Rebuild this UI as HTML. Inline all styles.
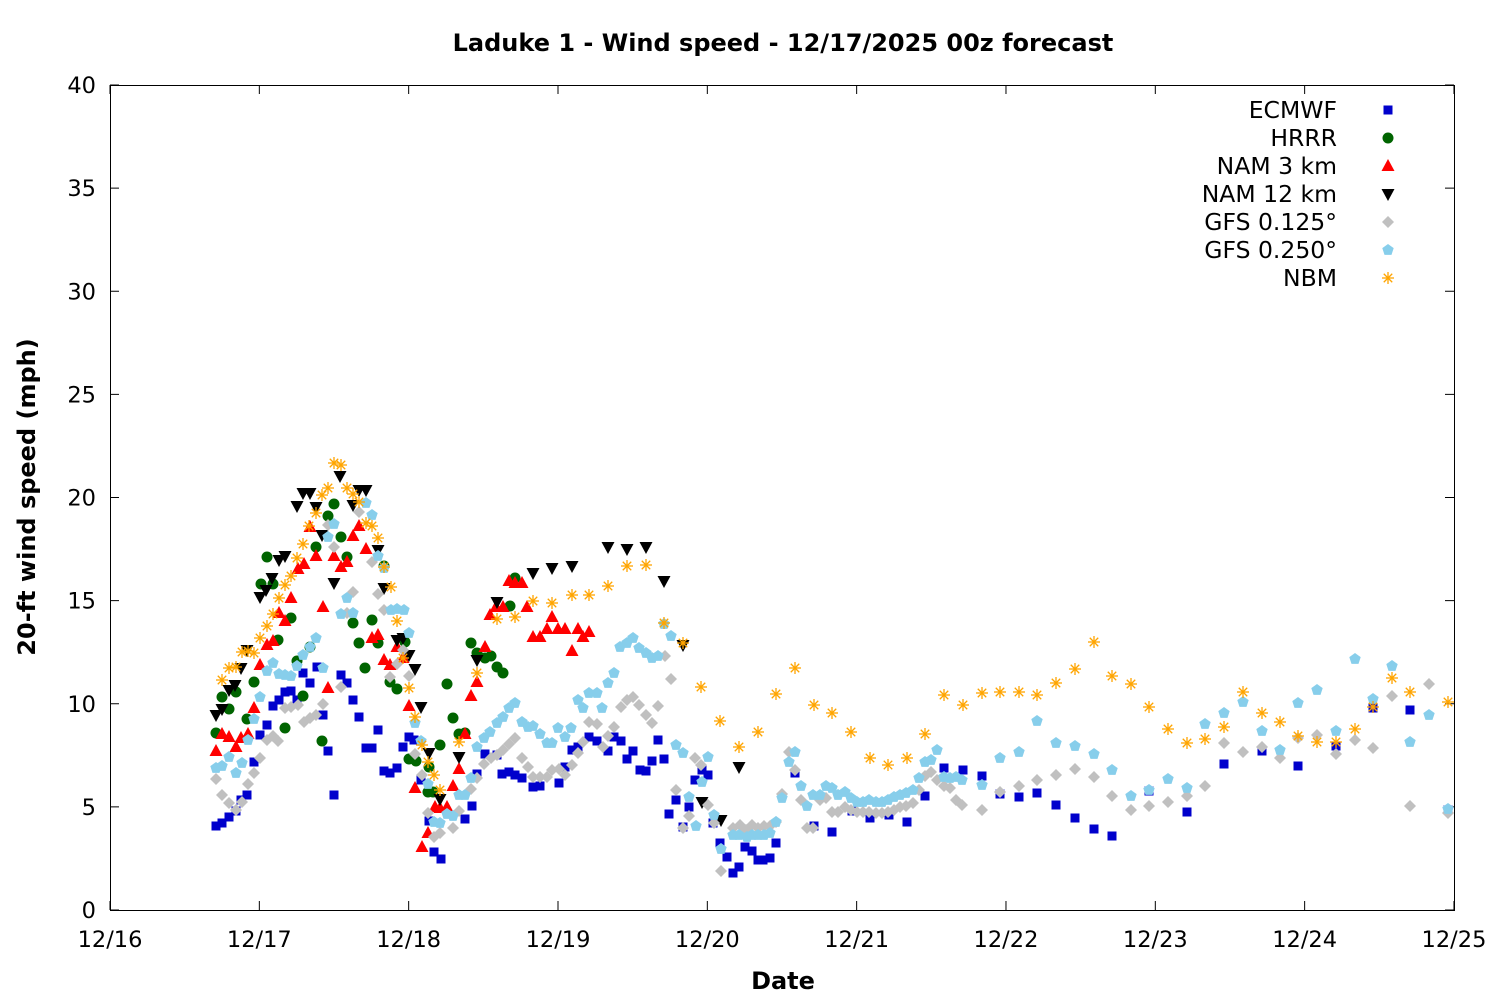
<!DOCTYPE html>
<html><head><meta charset="utf-8"><style>
body{margin:0;background:#fff}
svg{display:block;font-family:"DejaVu Sans","Liberation Sans",sans-serif}
</style></head><body>
<svg id="s" width="1500" height="1000" viewBox="0 0 1500 1000" xmlns="http://www.w3.org/2000/svg">
<rect width="1500" height="1000" fill="#fff"/>
<text x="783" y="51" font-size="24" font-weight="bold" text-anchor="middle">Laduke 1 - Wind speed - 12/17/2025 00z forecast</text>
<text x="783" y="989" font-size="24" font-weight="bold" text-anchor="middle">Date</text>
<text transform="translate(35,497) rotate(-90)" font-size="24" font-weight="bold" text-anchor="middle">20-ft wind speed (mph)</text>
<g id="ax" stroke="#000" stroke-width="1" fill="none"></g>
<g id="tl" font-size="22.5" fill="#000"></g>
<g id="pts"></g>
<g id="leg" font-size="23.5" text-anchor="end"></g>
</svg>
<script>
var NS="http://www.w3.org/2000/svg";
function el(p,t,a,txt){var e=document.createElementNS(NS,t);for(var k in a)e.setAttribute(k,a[k]);if(txt!==undefined)e.textContent=txt;p.appendChild(e);return e;}
var ax=document.getElementById('ax'),tl=document.getElementById('tl');
el(ax,'rect',{x:110.5,y:85.5,width:1344,height:825});
var L=110,R=1454,T=85,B=910;
for(var k=0;k<=8;k++){var y=B-k*103.125;
 el(ax,'line',{x1:L,y1:y,x2:L+9,y2:y});el(ax,'line',{x1:R,y1:y,x2:R-9,y2:y});
 el(tl,'text',{x:96,y:y+8,'text-anchor':'end'},String(k*5));}
var days=['12/16','12/17','12/18','12/19','12/20','12/21','12/22','12/23','12/24','12/25'];
for(var k=0;k<=9;k++){var x=L+k*149.33;
 el(ax,'line',{x1:x,y1:B,x2:x,y2:B-9});el(ax,'line',{x1:x,y1:T,x2:x,y2:T+9});
 el(tl,'text',{x:x,y:947,'text-anchor':'middle'},days[k]);}
var pts=document.getElementById('pts');
function mk(g,type,x,y,c){
 if(type=='sq')el(g,'rect',{x:x-4.5,y:y-4.5,width:9,height:9,fill:c});
 else if(type=='ci')el(g,'circle',{cx:x,cy:y,r:5.5,fill:c});
 else if(type=='tu')el(g,'polygon',{points:(x-6.5)+','+(y+5)+' '+(x+6.5)+','+(y+5)+' '+x+','+(y-7),fill:c});
 else if(type=='td')el(g,'polygon',{points:(x-6.5)+','+(y-5)+' '+(x+6.5)+','+(y-5)+' '+x+','+(y+7),fill:c});
 else if(type=='di')el(g,'polygon',{points:x+','+(y-6)+' '+(x+6)+','+y+' '+x+','+(y+6)+' '+(x-6)+','+y,fill:c});
 else if(type=='pe'){var p=[];for(var i=0;i<5;i++){var a=-Math.PI/2+i*2*Math.PI/5;p.push((x+6*Math.cos(a)).toFixed(1)+','+(y+6*Math.sin(a)).toFixed(1));}el(g,'polygon',{points:p.join(' '),fill:c});}
 else if(type=='as'){for(var i=0;i<4;i++){var a=i*Math.PI/4;el(g,'line',{x1:x-6*Math.cos(a),y1:y-6*Math.sin(a),x2:x+6*Math.cos(a),y2:y+6*Math.sin(a),stroke:c,'stroke-width':1.3});}}
}
function P(s){return s.trim().split(/\s+/).map(function(t){return t.split(',').map(Number);});}
var S=[
['ECMWF','sq','#0000cc',P("216,826 222,823 229,817 236,811 241,800 247,795 254,762 260,735 267,725 273,706 279,700 285,692 291,691 297,700 303,673 310,683 317,667 323,715 328,751 334,795 341,675 347,683 353,700 359,717 366,748 372,748 378,730 384,771 390,773 397,768 403,747 409,737 414,740 421,780 429,821 434,852 441,859 465,819 472,806 477,774 485,754 497,755 502,774 509,772 515,775 522,778 533,787 540,786 559,783 565,767 572,750 578,747 589,737 597,741 608,751 614,737 621,741 627,759 633,751 640,770 646,771 652,761 658,740 664,759 669,814 676,800 683,827 689,807 695,780 702,770 708,775 713,823 720,843 727,857 733,873 739,867 745,847 752,851 758,860 763,860 770,858 776,843 795,773 814,826 832,832 852,811 870,818 889,815 907,822 925,796 944,768 963,770 982,776 1000,794 1019,797 1037,793 1056,805 1075,818 1094,829 1112,836 1149,791 1187,812 1224,764 1262,751 1298,766 1336,746 1373,708 1410,710 1448,810")],
['HRRR','ci','#006400',P("216,733 222,697 229,709 236,692 247,719 254,682 261,584 267,557 273,584 278,640 285,728 291,618 297,661 303,696 310,647 316,547 322,741 328,516 334,504 341,537 347,557 353,623 359,643 365,668 372,620 378,643 384,566 390,682 397,689 405,642 409,759 416,761 428,792 429,767 433,792 440,745 447,684 453,718 459,734 465,733 471,643 477,653 485,658 491,656 497,667 503,673 510,606 515,578")],
['NAM 3 km','tu','#ff0000',P("216,751 222,734 229,737 236,747 241,738 248,734 254,708 260,665 267,645 273,641 279,613 285,621 291,598 298,569 304,564 310,527 316,556 323,607 328,688 334,556 341,567 347,562 353,536 359,526 366,549 372,638 378,635 384,660 390,665 397,647 403,658 409,706 415,788 422,847 428,833 435,807 440,808 447,807 453,786 459,769 465,734 471,696 477,682 485,647 490,615 496,607 503,607 509,581 515,583 522,583 527,607 533,637 540,637 547,629 552,617 558,629 565,629 572,651 578,629 583,637 589,632")],
['NAM 12 km','td','#000000',P("216,715 222,709 229,690 235,685 241,668 247,650 260,597 266,590 272,578 279,560 285,556 297,506 303,493 310,493 316,507 322,535 334,583 340,476 353,505 359,490 366,490 378,550 384,588 397,640 403,638 409,655 415,669 421,707 429,753 440,799 459,757 477,660 497,602 533,573 552,568 572,566 608,547 627,549 646,547 664,581 683,645 702,802 721,820 739,767")],
['GFS 0.125°','di','#c0c0c0',P("216,779 222,795 229,803 236,810 242,802 248,784 254,773 260,758 267,740 273,736 278,741 285,708 291,707 298,705 304,722 310,718 316,715 323,704 328,525 334,547 341,687 347,613 353,592 359,512 372,562 378,594 384,610 390,677 397,664 403,650 409,676 415,754 422,775 428,813 434,837 440,833 453,828 459,811 471,789 477,778 484,764 491,758 497,755 503,750 509,744 515,738 522,758 528,767 533,777 540,777 547,777 552,770 559,769 565,775 572,765 578,753 583,742 589,722 597,724 603,747 608,736 614,727 621,707 627,700 633,697 639,705 646,715 652,723 658,706 665,656 671,679 676,790 683,828 689,816 695,758 701,765 708,805 714,823 721,871 733,828 740,825 746,830 752,825 758,828 764,826 770,826 776,822 782,794 789,752 795,770 801,800 807,828 813,828 820,800 826,798 832,812 838,812 845,807 851,810 857,812 863,812 869,812 876,813 882,813 888,812 894,810 900,807 906,806 913,803 919,790 925,776 931,772 937,780 944,786 950,788 956,800 962,805 982,810 1000,792 1019,786 1037,780 1056,775 1075,769 1094,777 1112,796 1131,810 1149,806 1168,802 1187,796 1205,786 1224,743 1243,752 1262,747 1280,758 1298,738 1317,735 1336,754 1355,740 1373,748 1392,696 1410,806 1429,684 1448,813")],
['GFS 0.250°','pe','#87ceeb',P("216,768 222,766 229,757 236,773 242,763 248,740 254,719 260,697 267,671 273,663 279,674 285,675 291,676 297,666 303,655 310,647 316,638 323,668 328,537 334,524 341,614 347,598 353,613 366,503 372,515 378,556 384,568 391,610 397,609 404,610 409,633 415,723 421,741 428,784 434,822 440,823 447,814 453,816 459,795 465,795 471,778 477,747 484,738 490,732 497,723 503,717 509,708 515,703 522,722 528,727 533,726 540,734 547,743 552,743 558,728 565,737 571,728 578,700 583,708 589,693 597,693 602,708 608,683 614,673 620,647 627,643 633,638 639,648 646,653 652,658 658,656 664,624 671,636 676,745 683,753 689,797 696,826 702,782 708,757 714,815 721,849 733,835 739,835 747,837 752,835 758,835 764,835 770,833 776,822 782,798 789,762 795,752 801,786 807,806 813,795 820,795 826,786 832,788 838,795 845,792 851,798 857,802 863,802 869,800 876,802 882,802 888,800 894,797 900,795 906,793 913,790 919,778 925,762 931,760 937,750 944,777 950,778 956,777 962,780 982,785 1000,758 1019,752 1037,721 1056,743 1075,746 1094,754 1112,770 1131,796 1149,790 1168,779 1187,788 1205,724 1224,713 1243,702 1262,731 1280,750 1298,703 1317,690 1336,731 1355,659 1373,699 1392,666 1410,742 1429,715 1448,809")],
['NBM','as','#ffa500',P("222,680 229,668 236,667 242,652 248,651 254,653 260,638 267,626 273,614 279,598 285,585 291,576 297,558 303,544 309,526 316,513 322,495 328,488 334,463 341,465 347,488 353,494 359,502 366,523 372,526 378,538 384,567 391,587 397,621 403,658 409,688 415,717 422,745 428,762 434,775 440,790 459,742 477,673 497,619 515,617 533,601 552,603 572,595 589,595 608,586 627,566 646,565 664,623 683,643 701,687 720,721 739,747 758,732 776,694 795,668 814,705 832,713 851,732 870,758 888,765 907,758 925,734 944,695 963,705 982,693 1000,692 1019,692 1037,695 1056,683 1075,669 1094,642 1112,676 1131,684 1149,707 1168,729 1187,743 1205,739 1224,727 1243,692 1262,713 1280,722 1298,736 1317,742 1336,742 1355,729 1373,707 1392,678 1410,692 1448,702")]
];
var leg=document.getElementById('leg');
S.forEach(function(s,i){var g=el(pts,'g',{});s[3].forEach(function(p){mk(g,s[1],p[0],p[1],s[2]);});
 var y=110+i*28;el(leg,'text',{x:1337,y:y+8},s[0]);mk(leg,s[1],1388,y,s[2]);});
</script>
</body></html>
